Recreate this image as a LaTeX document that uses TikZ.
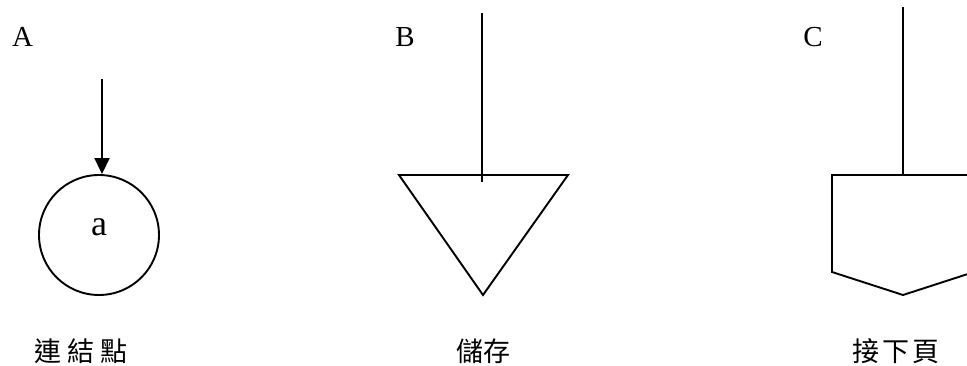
\documentclass[tikz,border=0pt]{standalone}
\usepackage{fontspec}
\setmainfont{Liberation Serif}
\newfontfamily\cjk{Noto Sans CJK TC}
\usetikzlibrary{arrows.meta}
\begin{document}
\begin{tikzpicture}[x=1pt,y=-1pt,
  shape line/.style={line width=1.9pt, line join=miter},
  letter/.style={font=\fontsize{29}{31}\selectfont, inner sep=0pt},
  caption/.style={font=\cjk\fontsize{27}{30}\selectfont, inner sep=0pt}]
\useasboundingbox (0,0) rectangle (967,366);
\clip (0,0) rectangle (967,366);
% labels
\node[letter, anchor=base] (labA) at (22.5,47) {A};
\node[letter, anchor=base] (labB) at (405,47) {B};
\node[letter, anchor=base] (labC) at (813,47) {C};
% A: connector
\node[shape line, draw, circle, minimum size=120pt, inner sep=0pt] (circ) at (99,235) {};
\node[font=\fontsize{36}{40}\selectfont, inner sep=0pt, anchor=base] (aa) at (99,236) {a};
\coordinate (Atop) at (102,79);
\draw[shape line, -{Triangle[length=16pt,width=15pt]}] (Atop) -- (Atop |- circ.north);
% B: storage triangle
\coordinate (T1) at (399,175);
\coordinate (T2) at (568,175);
\coordinate (T3) at (483,295);
\draw[shape line] (T1) -- (T2) -- (T3) -- cycle;
\coordinate (Btop) at (482,13);
\coordinate (Bbot) at (482,182);
\draw[shape line] (Btop) -- (Bbot);
% C: off-page connector
\coordinate (P1) at (832,175);
\coordinate (P2) at (974,175);
\coordinate (P3) at (974,272);
\coordinate (P4) at (903,295);
\coordinate (P5) at (832,272);
\draw[shape line] (P1) -- (P2) -- (P3) -- (P4) -- (P5) -- cycle;
\coordinate (Ctop) at (903,7);
\draw[shape line] (Ctop) -- (Ctop |- P1);
% captions
\node[caption] (capA) at (81,351) {連\hspace{6pt}結\hspace{6pt}點};
\node[caption] (capB) at (483,351) {儲存};
\node[caption] (capC) at (896,351) {接\hspace{3pt}下\hspace{3pt}頁};
\end{tikzpicture}
\end{document}
